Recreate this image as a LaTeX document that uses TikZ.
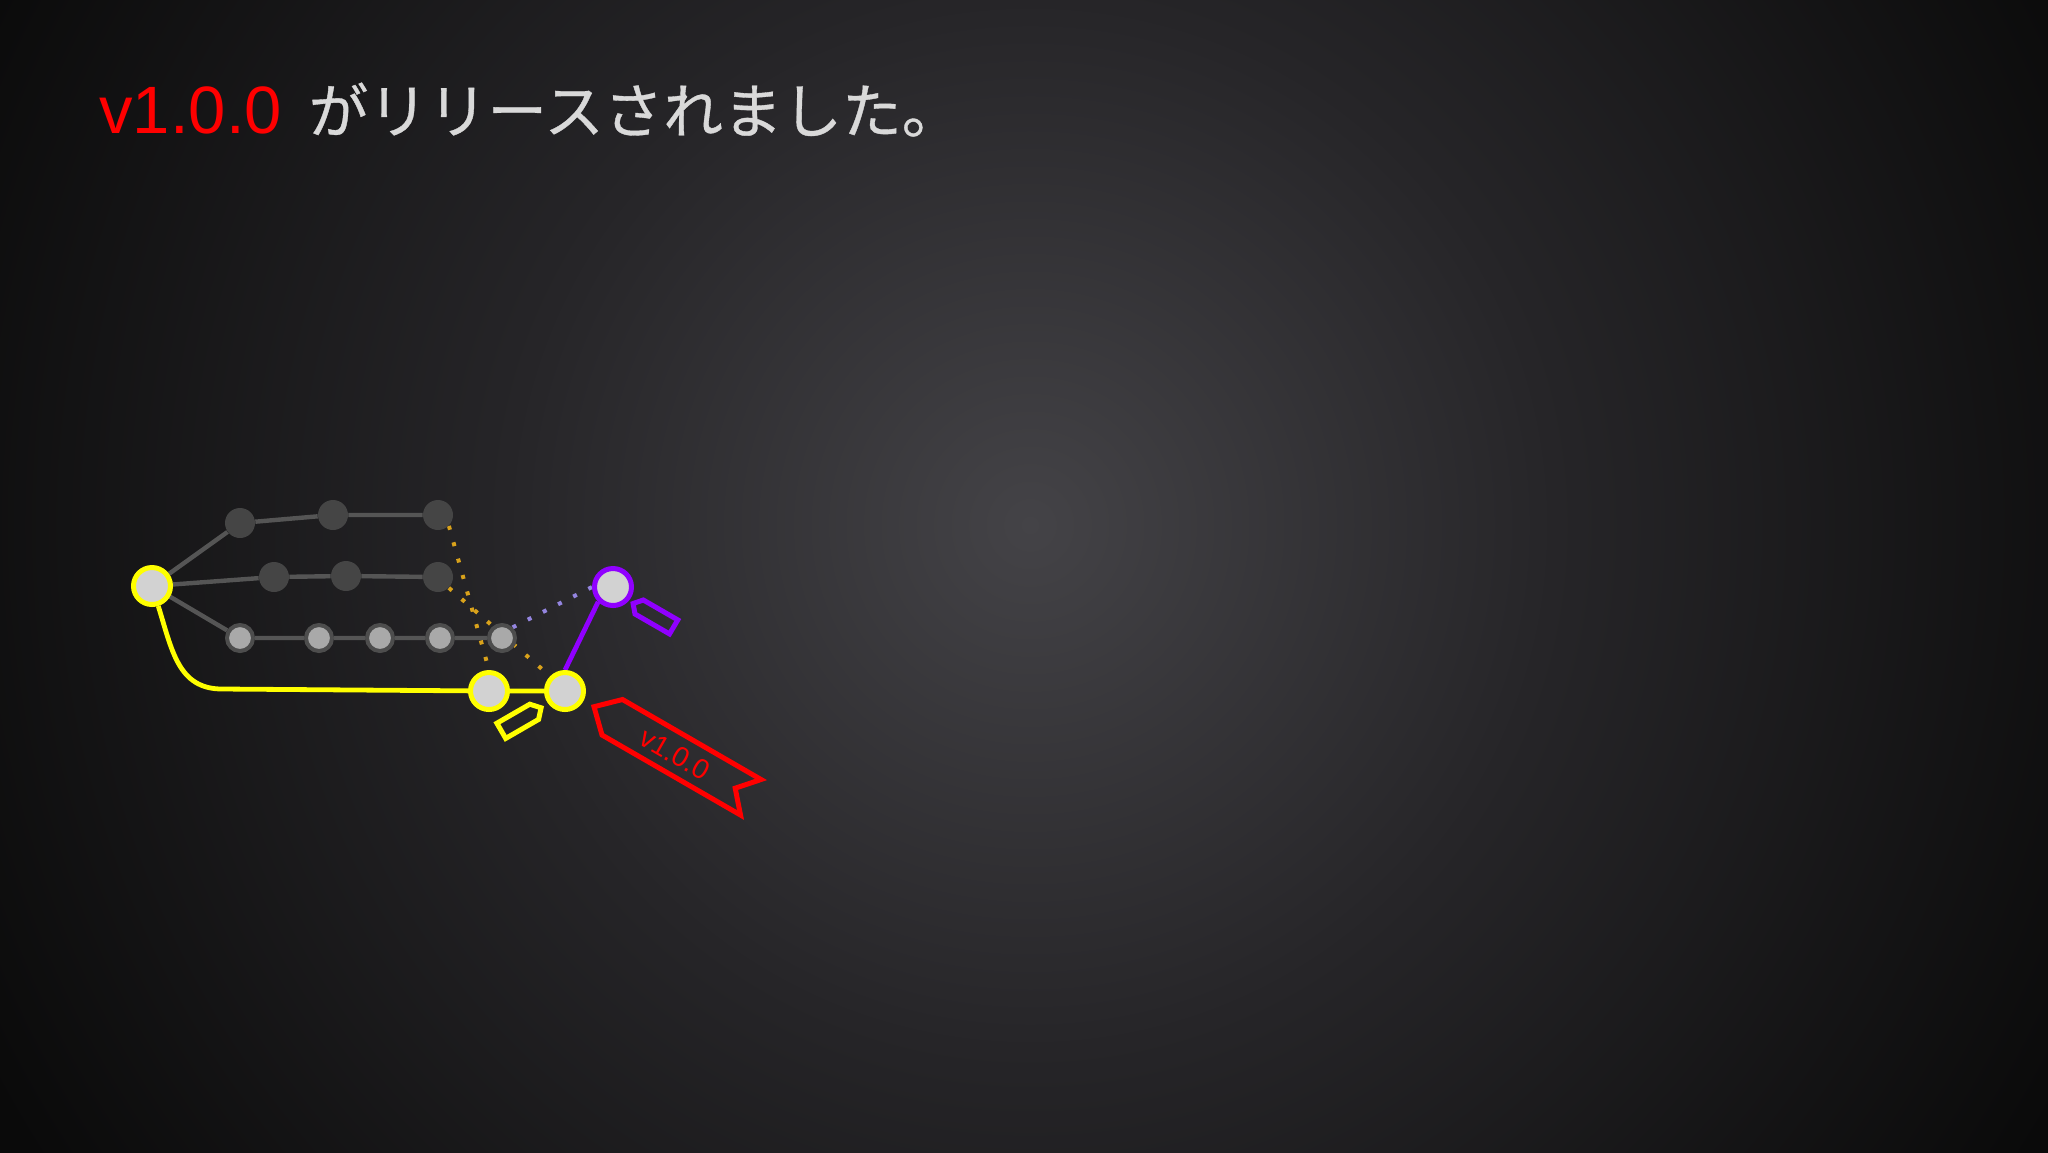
\documentclass[tikz,border=0pt]{standalone}
\usepackage{fontspec}
\setmainfont{Liberation Sans}
\newfontfamily\jpfont{Noto Sans CJK JP}[FakeBold=0.6]
\usetikzlibrary{positioning}

\definecolor{bgcenter}{HTML}{444347}
\definecolor{bgmid}{HTML}{262528}
\definecolor{bgedge}{HTML}{0A0A0A}
\definecolor{vred}{HTML}{FF0000}
\definecolor{msggray}{HTML}{D9D9D9}
\definecolor{edgegray}{HTML}{555555}
\definecolor{olddark}{HTML}{454545}
\definecolor{pastfill}{HTML}{A9A9A9}
\definecolor{pastring}{HTML}{4D4D4D}
\definecolor{headfill}{HTML}{D2D2D2}
\definecolor{mainyellow}{HTML}{FFFF00}
\definecolor{devpurple}{HTML}{9000FF}
\definecolor{mergeorange}{HTML}{D9A21B}
\definecolor{mergelilac}{HTML}{9485E0}

\pgfdeclareradialshading{vignette}{\pgfpoint{0bp}{0bp}}{color(0bp)=(bgcenter); color(10.1bp)=(bgmid); color(22.7bp)=(bgedge); color(50bp)=(bgedge)}

\pgfdeclarelayer{back}
\pgfdeclarelayer{edges}
\pgfsetlayers{back,edges,main}

\tikzset{
  commit/.style={circle, inner sep=0pt},
  oldc/.style={commit, fill=olddark, minimum size=15pt},
  pastc/.style={commit, fill=pastfill, draw=pastring, line width=2pt, minimum size=13pt},
  headc/.style={commit, fill=headfill, line width=2.5pt, minimum size=18.5pt},
  link/.style={draw=edgegray, line width=2.2pt},
  mergedots/.style={line width=2pt, dash pattern=on 2pt off 6.5pt},
  tagline/.style={line width=2.5pt, line join=miter},
}

\begin{document}
\begin{tikzpicture}[x=0.5pt,y=0.5pt,yscale=-1,xscale=1]
\useasboundingbox (0,0) rectangle (2048,1152);

%Background
\begin{pgfonlayer}{back}
\fill[bgedge] (0,0) rectangle (2048,1152);
\begin{scope}
\clip (0,0) rectangle (2048,1152);
\shade[shading=vignette] (1030,525) circle (1300);
\end{scope}
\end{pgfonlayer}

% Title
\node[anchor=base west, inner sep=0pt, text=vred, font=\fontsize{33.5}{40}\selectfont] (ver) at (99,133) {v1.0.0};
\node[right=13pt of ver.base east, anchor=base west, inner sep=0pt, text=msggray, font=\jpfont\fontsize{29.8}{36}\selectfont] (msg) {がリリースされました。};

% Commits
\node[headc, draw=mainyellow] (root) at (152,586) {};
\node[oldc] (t1) at (240,523) {};
\node[oldc] (t2) at (333,515) {};
\node[oldc] (t3) at (438,515) {};
\node[oldc] (m1) at (274,577) {};
\node[oldc] (m2) at (346,576) {};
\node[oldc] (m3) at (438,577) {};
\foreach \i/\x in {1/240,2/319,3/380,4/440,5/502}
  \node[pastc] (b\i) at (\x,638) {};
\node[headc, draw=mainyellow] (y1) at (489,691) {};
\node[headc, draw=mainyellow] (y2) at (565,691) {};
\node[headc, draw=devpurple] (dev) at (613,587) {};

% Links
\begin{pgfonlayer}{edges}
\draw[link] (root) -- (t1) -- (t2) -- (t3);
\draw[link] (root) -- (m1) -- (m2) -- (m3);
\draw[link] (root) -- (b1) -- (b2) -- (b3) -- (b4) -- (b5);
\draw[mainyellow, line width=2.4pt] (root) .. controls (172,650) and (178,689) .. (222,689) -- (y1) -- (y2);
\draw[devpurple, line width=2.4pt] (y2.north) -- (dev.south west);
\draw[mergedots, mergeorange] (t3.south east) -- (y1.north);
\draw[mergedots, mergeorange] (m3.south east) -- (y2.north west);
\draw[mergedots, mergelilac] (b5.north east) -- (dev.west);
\end{pgfonlayer}

% Tags
\draw[tagline, mainyellow] (496.9,723.2) -- (529.8,704.2) -- (541.1,707.8) -- (538.6,719.4) -- (505.7,738.4) -- cycle;
\draw[tagline, devpurple] (633.1,603.5) -- (643.3,600) -- (677.8,619.9) -- (669.5,633.9) -- (635,614) -- cycle;
\draw[tagline, vred] (594,706.7) -- (622.5,699.5) -- (761,779.5) -- (735.2,788.2) -- (740.5,815) -- (602,735) -- cycle;
\node[text=vred, font=\fontsize{14}{16}\selectfont, rotate=-30] (vlabel) at (675,754) {v1.0.0};

\end{tikzpicture}
\end{document}
